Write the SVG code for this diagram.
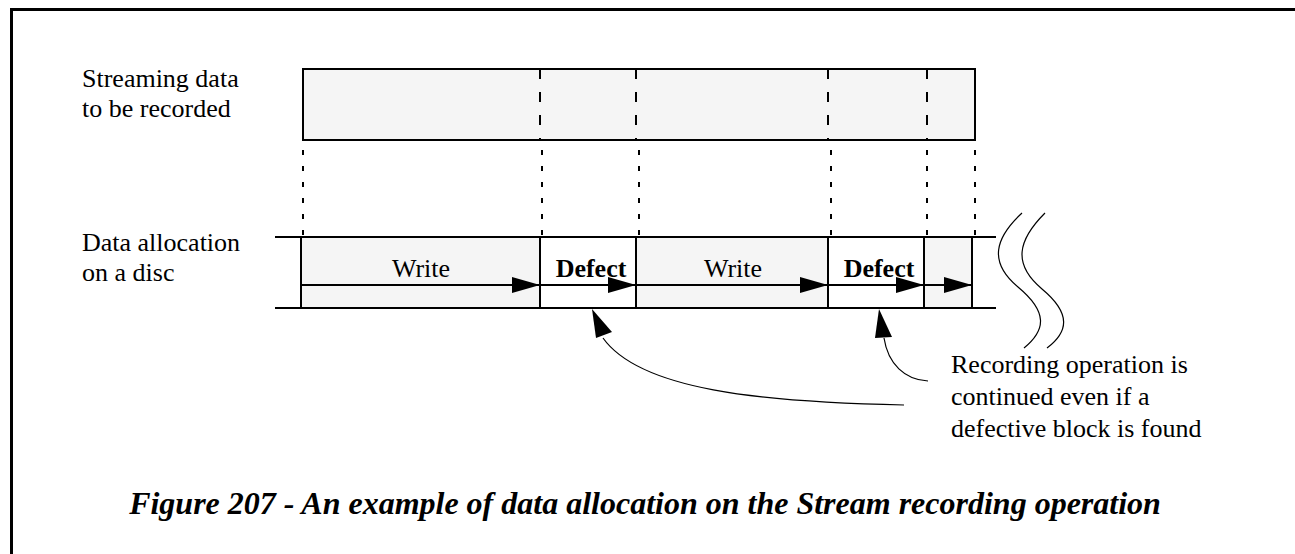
<svg xmlns="http://www.w3.org/2000/svg" width="1295" height="554" viewBox="0 0 1295 554">
<style>
text{font-family:"Liberation Serif","Times New Roman",serif;font-size:26px;fill:#000}
.b{font-weight:bold}
.cap{font-weight:bold;font-style:italic;font-size:32px}
.box{fill:#f5f5f5;stroke:#000;stroke-width:2}
.wcell{fill:#fff;stroke:none}
.gcell{fill:#f5f5f5;stroke:none}
.ln{stroke:#000;stroke-width:2;fill:none}
.dl{stroke:#000;stroke-width:2;stroke-dasharray:10 13;fill:none}
.ds{stroke:#000;stroke-width:2;stroke-dasharray:5 11;fill:none}
.thin{stroke:#000;stroke-width:1.2;fill:none}
</style>
<defs>
<marker id="ah" viewBox="0 0 28 16" refX="28" refY="8" markerWidth="28" markerHeight="16" markerUnits="userSpaceOnUse" orient="auto">
<path d="M0,0 L28,8 L0,16 Z" fill="#000"/>
</marker>
</defs>
<g id="frame">
<path d="M11.5,554 V9.5 H1295" stroke="#000" stroke-width="3" fill="none"/>
</g>
<g id="labels">
<text x="82" y="87">Streaming data</text>
<text x="82" y="117">to be recorded</text>
<text x="82" y="251">Data allocation</text>
<text x="82" y="281">on a disc</text>
</g>
<g id="stream">
<rect class="box" x="303" y="69" width="672" height="71"/>
<line class="dl" x1="540" y1="69" x2="540" y2="140"/>
<line class="dl" x1="636" y1="69" x2="636" y2="140"/>
<line class="dl" x1="828" y1="69" x2="828" y2="140"/>
<line class="dl" x1="927" y1="69" x2="927" y2="140"/>
</g>
<g id="projections">
<line class="ds" x1="303" y1="140" x2="303" y2="237" stroke-dashoffset="-10"/>
<line class="ds" x1="542" y1="140" x2="542" y2="237" stroke-dashoffset="-10"/>
<line class="ds" x1="639" y1="140" x2="639" y2="237" stroke-dashoffset="-10"/>
<line class="ds" x1="831" y1="140" x2="831" y2="237" stroke-dashoffset="-10"/>
<line class="ds" x1="927" y1="140" x2="927" y2="237" stroke-dashoffset="-10"/>
<line class="ds" x1="975" y1="140" x2="975" y2="237" stroke-dashoffset="-10"/>
</g>
<g id="disc">
<rect class="gcell" x="301" y="237" width="239" height="71"/>
<rect class="wcell" x="540" y="237" width="96" height="71"/>
<rect class="gcell" x="636" y="237" width="192" height="71"/>
<rect class="wcell" x="828" y="237" width="96" height="71"/>
<rect class="gcell" x="924" y="237" width="48" height="71"/>
<line class="ln" x1="275" y1="237" x2="996" y2="237"/>
<line class="ln" x1="275" y1="308" x2="996" y2="308"/>
<line class="ln" x1="301" y1="237" x2="301" y2="308"/>
<line class="ln" x1="540" y1="237" x2="540" y2="308"/>
<line class="ln" x1="636" y1="237" x2="636" y2="308"/>
<line class="ln" x1="828" y1="237" x2="828" y2="308"/>
<line class="ln" x1="924" y1="237" x2="924" y2="308"/>
<line class="ln" x1="972" y1="237" x2="972" y2="308"/>
</g>
<g id="cell-text">
<text x="421" y="277" text-anchor="middle">Write</text>
<text class="b" x="591" y="277" text-anchor="middle">Defect</text>
<text x="733" y="277" text-anchor="middle">Write</text>
<text class="b" x="879" y="277" text-anchor="middle">Defect</text>
</g>
<g id="connectors">
<line class="ln" x1="301" y1="285" x2="540" y2="285" marker-end="url(#ah)"/>
<line class="ln" x1="540" y1="285" x2="636" y2="285" marker-end="url(#ah)"/>
<line class="ln" x1="636" y1="285" x2="828" y2="285" marker-end="url(#ah)"/>
<line class="ln" x1="828" y1="285" x2="924" y2="285" marker-end="url(#ah)"/>
<line class="ln" x1="924" y1="285" x2="972" y2="285" marker-end="url(#ah)"/>
<path class="thin" d="M904,405 C760,402 640,390 603,338" />
<path d="M592,309 L612,332 L596,338 Z" fill="#000"/>
<path class="thin" d="M928,381 C905,380 888,364 884,338" />
<path d="M879,309 L892,337 L875,338 Z" fill="#000"/>
</g>
<g id="break">
<path class="thin" d="M1022,213 C995,238 988,262 1018,287 C1048,312 1046,330 1024,348"/>
<path class="thin" d="M1045,213 C1018,240 1012,264 1042,289 C1072,314 1068,332 1047,348"/>
</g>
<g id="note">
<text x="951" y="373">Recording operation is</text>
<text x="951" y="405">continued even if a</text>
<text x="951" y="437">defective block is found</text>
</g>
<g id="caption">
<text class="cap" x="645" y="514" text-anchor="middle">Figure 207 - An example of data allocation on the Stream recording operation</text>
</g>
</svg>
